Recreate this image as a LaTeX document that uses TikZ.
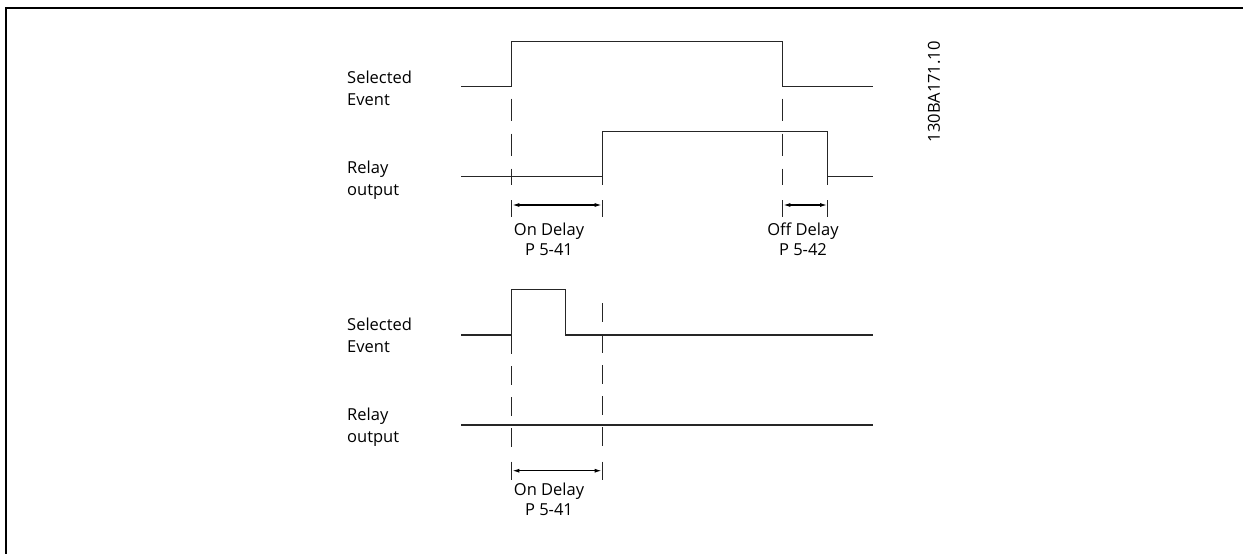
\documentclass[tikz,border=0pt]{standalone}
\usepackage{fontspec}
\setmainfont{Open Sans}
\usetikzlibrary{arrows.meta}
\begin{document}
\begin{tikzpicture}[x=1pt,y=-1pt,
  wave/.style={line width=1.2pt, black!85, line join=miter},
  dlineA/.style={line width=1.2pt, black!85, dash pattern=on 22pt off 13pt, dash phase=23pt},
  dlineB/.style={line width=1.2pt, black!85, dash pattern=on 19pt off 12pt},
  tickln/.style={line width=1.2pt, black!85},
  dimarrow/.style={line width=1.2pt, black, {Latex[length=7pt,width=4pt]}-{Latex[length=7pt,width=4pt]}, shorten <=0.6pt, shorten >=0.6pt},
  lbl/.style={font=\fontsize{16.5}{20}\selectfont, inner sep=0pt, anchor=base west},
  dlbl/.style={font=\fontsize{16.5}{20}\selectfont, inner sep=0pt, anchor=base},
]
\useasboundingbox (0,0) rectangle (1243,554);
\draw[line width=1.5pt] (6,554) -- (6,8) -- (1243,8);

% ---------- upper diagram ----------
\node[lbl] (sel1a) at (347,83) {Selected};
\node[lbl] (sel1b) at (347,105) {Event};
\node[lbl] (rel1a) at (347,173) {Relay};
\node[lbl] (rel1b) at (347,195) {output};

\draw[wave] (461,86.7) -- (511.7,86.7) -- (511.7,41.3) -- (782.7,41.3) -- (782.7,86.7) -- (873,86.7);
\draw[wave] (461,176.7) -- (602.3,176.7) -- (602.3,131.3) -- (827.7,131.3) -- (827.7,176.7) -- (873,176.7);

\draw[dlineA] (511.7,86.7) -- (511.7,185);
\draw[dlineA] (782.7,86.7) -- (782.7,185);
\draw[tickln] (602.3,176.7) -- (602.3,185);
\draw[tickln] (827.7,176.7) -- (827.7,185);

\coordinate (a1) at (511.7,205);
\coordinate (a2) at (602.3,205);
\coordinate (b1) at (782.7,205);
\coordinate (b2) at (827.7,205);
\foreach \c in {a1,a2,b1,b2}{
  \draw[tickln] ([yshift=5pt]\c) -- ([yshift=-12pt]\c);
}
\draw[dimarrow] (a1) -- (a2);
\draw[dimarrow] (b1) -- (b2);

\node[dlbl] (on1a) at (549,235.7) {On Delay};
\node[dlbl] (on1b) at (549,255.7) {P 5-41};
\node[dlbl] (off1a) at (803,235.7) {Off Delay};
\node[dlbl] (off1b) at (803,255.7) {P 5-42};

\node[font=\fontsize{16.5}{19}\selectfont, inner sep=0pt, rotate=90] (code) at (934,91.7) {130BA171.10};

% ---------- lower diagram ----------
\node[lbl] (sel2a) at (347,330) {Selected};
\node[lbl] (sel2b) at (347,352) {Event};
\node[lbl] (rel2a) at (347,420) {Relay};
\node[lbl] (rel2b) at (347,442) {output};

\draw[wave] (461,335) -- (511.7,335) -- (511.7,289.3) -- (565.7,289.3) -- (565.7,335) -- (873,335);
\draw[wave] (461,425) -- (873,425);

\draw[dlineB] (511.7,335) -- (511.7,448);
\draw[dlineB] (602.3,303) -- (602.3,448);

\coordinate (c1) at (511.7,470.7);
\coordinate (c2) at (602.3,470.7);
\foreach \c in {c1,c2}{
  \draw[tickln] ([yshift=9pt]\c) -- ([yshift=-9.3pt]\c);
}
\draw[dimarrow] (c1) -- (c2);

\node[dlbl] (on2a) at (549,495.7) {On Delay};
\node[dlbl] (on2b) at (549,515.7) {P 5-41};
\end{tikzpicture}
\end{document}
